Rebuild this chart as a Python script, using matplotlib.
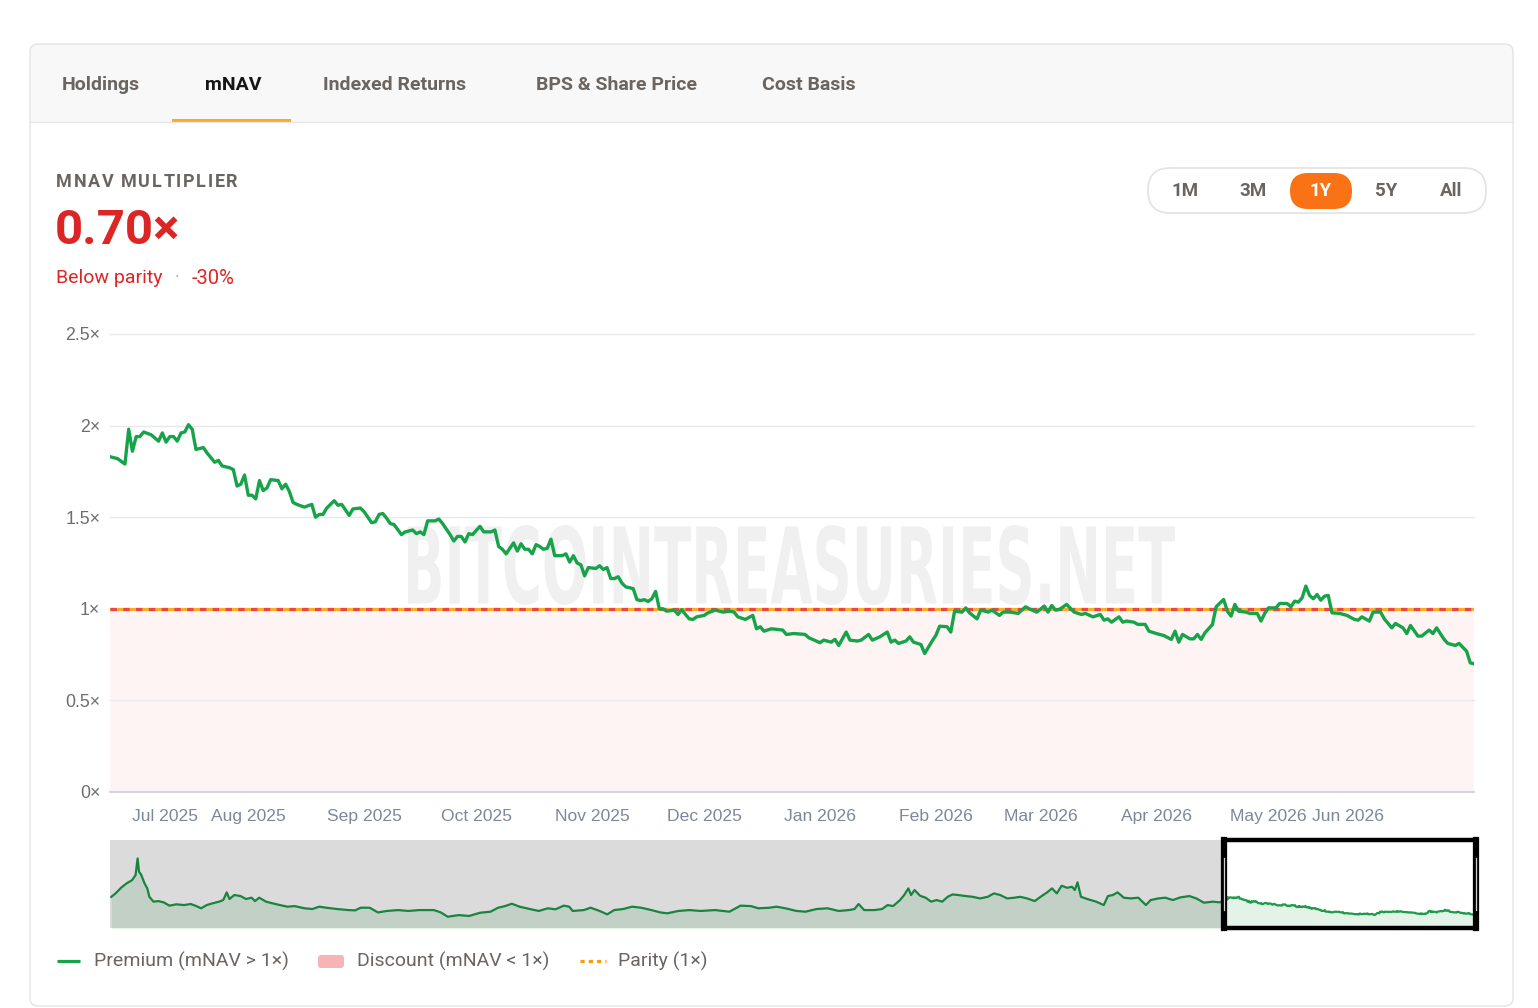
import numpy as np
import matplotlib
matplotlib.use("Agg")
import matplotlib.pyplot as plt
from matplotlib.patches import FancyBboxPatch, Rectangle, PathPatch
from matplotlib.textpath import TextPath, text_to_path
from matplotlib.font_manager import FontProperties
from matplotlib.transforms import Affine2D

W, H = 1538, 1008

# --- data -------------------------------------------------------------------
MAIN_START = np.datetime64("2025-06-25")
NAV_START = np.datetime64("2021-01-24")

# 1Y mNAV series: day offset from MAIN_START, multiplier
main_days = [0, 2, 3, 4, 5, 6, 7, 8, 9, 11, 13, 14, 15, 16, 17, 18, 19, 20, 21, 22,
             23, 25, 26, 28, 29, 30, 32, 33, 34, 35, 36, 37, 38, 39, 40, 41, 42, 43, 45, 46,
             47, 48, 49, 50, 52, 54, 55, 56, 57, 58, 60, 61, 62, 64, 65, 67, 68, 70, 71, 72,
             73, 74, 75, 76, 78, 79, 81, 82, 83, 84, 85, 87, 88, 89, 91, 92, 93, 94, 95, 96,
             97, 99, 100, 102, 103, 104, 105, 106, 108, 109, 110, 111, 112, 113, 114, 115, 116, 117, 118, 119,
             121, 122, 123, 124, 125, 126, 127, 128, 130, 131, 132, 133, 134, 135, 136, 137, 138, 140, 141, 142,
             143, 144, 145, 146, 147, 148, 149, 151, 152, 153, 154, 155, 156, 157, 159, 160, 162, 164, 166, 167,
             168, 170, 172, 173, 174, 175, 177, 180, 181, 183, 186, 187, 190, 191, 193, 194, 195, 197, 198, 200,
             201, 203, 204, 206, 208, 209, 210, 211, 213, 214, 215, 217, 218, 220, 221, 222, 224, 225, 226, 228,
             229, 230, 232, 233, 235, 236, 238, 239, 241, 243, 245, 246, 248, 250, 251, 252, 253, 254, 256, 258,
             260, 261, 263, 265, 266, 267, 268, 270, 271, 272, 274, 275, 277, 278, 280, 282, 284, 285, 286, 287,
             289, 290, 291, 292, 293, 295, 296, 298, 299, 300, 301, 302, 304, 305, 307, 308, 309, 310, 312, 313,
             315, 316, 317, 318, 319, 320, 321, 322, 323, 324, 325, 326, 327, 329, 331, 333, 334, 335, 337, 338,
             340, 341, 343, 344, 346, 347, 348, 350, 351, 353, 354, 355, 357, 358, 360, 361, 363, 364, 365]
main_mnav = [1.83, 1.82, 1.805, 1.79, 1.98, 1.86, 1.94, 1.94, 1.965, 1.95, 1.915, 1.96, 1.91, 1.94, 1.94, 1.915, 1.96, 1.965, 2.005, 1.98,
             1.87, 1.88, 1.85, 1.80, 1.81, 1.78, 1.77, 1.76, 1.67, 1.68, 1.73, 1.62, 1.62, 1.60, 1.70, 1.645, 1.66, 1.705, 1.70, 1.655,
             1.68, 1.64, 1.58, 1.57, 1.555, 1.57, 1.50, 1.515, 1.515, 1.55, 1.59, 1.565, 1.57, 1.51, 1.545, 1.55, 1.53, 1.47, 1.475, 1.515,
             1.52, 1.495, 1.465, 1.46, 1.405, 1.42, 1.43, 1.41, 1.42, 1.405, 1.48, 1.48, 1.49, 1.465, 1.405, 1.37, 1.395, 1.395, 1.365, 1.41,
             1.405, 1.45, 1.42, 1.42, 1.43, 1.34, 1.325, 1.30, 1.36, 1.315, 1.355, 1.325, 1.325, 1.30, 1.35, 1.34, 1.325, 1.33, 1.38, 1.29,
             1.29, 1.30, 1.255, 1.29, 1.25, 1.24, 1.18, 1.225, 1.22, 1.235, 1.215, 1.225, 1.165, 1.165, 1.175, 1.14, 1.12, 1.11, 1.05, 1.045,
             1.05, 1.04, 1.055, 1.095, 1.0, 1.0, 0.987, 0.993, 0.969, 0.996, 0.969, 0.945, 0.942, 0.956, 0.964, 0.978, 0.993, 0.982, 0.987, 0.982,
             0.956, 0.942, 0.964, 0.891, 0.902, 0.878, 0.891, 0.884, 0.86, 0.865, 0.86, 0.842, 0.815, 0.829, 0.818, 0.833, 0.80, 0.873, 0.829, 0.824,
             0.829, 0.86, 0.829, 0.847, 0.873, 0.818, 0.829, 0.811, 0.824, 0.847, 0.818, 0.805, 0.756, 0.824, 0.855, 0.905, 0.902, 0.873, 0.987, 0.982,
             1.005, 0.978, 0.945, 0.993, 0.982, 0.993, 0.964, 0.982, 0.982, 0.975, 1.011, 1.0, 0.982, 1.015, 0.982, 1.018, 0.993, 0.996, 1.024, 0.982,
             0.969, 0.975, 0.956, 0.969, 0.938, 0.945, 0.927, 0.956, 0.927, 0.933, 0.927, 0.915, 0.915, 0.878, 0.865, 0.854, 0.833, 0.878, 0.818, 0.86,
             0.836, 0.836, 0.86, 0.833, 0.869, 0.914, 1.011, 1.051, 0.987, 0.96, 1.024, 0.987, 0.982, 0.975, 0.975, 0.933, 0.975, 1.005, 1.005, 1.029,
             1.029, 1.011, 1.042, 1.036, 1.06, 1.124, 1.073, 1.055, 1.078, 1.047, 1.069, 1.073, 0.978, 0.975, 0.964, 0.942, 0.938, 0.956, 0.933, 0.982,
             0.982, 0.945, 0.896, 0.92, 0.896, 0.865, 0.909, 0.851, 0.851, 0.884, 0.865, 0.896, 0.833, 0.811, 0.80, 0.811, 0.769, 0.705, 0.70]

# full history shown in the navigator before the 1Y window: day offset from NAV_START
nav_days = [2, 8, 16, 24, 32, 37, 40, 42, 45, 50, 54, 57, 63, 70, 78, 86, 96, 107, 117, 125,
            132, 140, 148, 158, 164, 169, 173, 180, 189, 197, 205, 210, 216, 226, 236, 246, 257, 267, 282, 293,
            303, 313, 329, 345, 355, 363, 376, 388, 401, 417, 432, 448, 469, 479, 489, 505, 520, 536, 551, 562,
            572, 582, 593, 608, 621, 634, 645, 657, 665, 670, 686, 696, 709, 720, 730, 743, 756, 769, 784, 797,
            807, 823, 839, 855, 876, 897, 913, 928, 939, 955, 965, 978, 994, 1007, 1023, 1039, 1055, 1070, 1078, 1084,
            1092, 1107, 1118, 1126, 1134, 1144, 1150, 1156, 1160, 1165, 1173, 1181, 1189, 1197, 1205, 1213, 1220, 1228, 1239, 1249,
            1260, 1271, 1280, 1289, 1299, 1310, 1318, 1328, 1339, 1349, 1357, 1364, 1371, 1378, 1386, 1393, 1397, 1401, 1406, 1415,
            1428, 1439, 1445, 1452, 1459, 1468, 1478, 1489, 1500, 1507, 1518, 1528, 1539, 1550, 1563, 1573, 1584, 1597, 1608]
nav_mnav = [2.00, 2.23, 2.61, 2.91, 3.13, 3.47, 4.60, 3.70, 3.51, 2.91, 2.57, 2.00, 1.67, 1.71, 1.62, 1.40, 1.49, 1.44, 1.51, 1.37,
            1.22, 1.44, 1.55, 1.67, 1.78, 2.30, 1.85, 2.12, 2.05, 1.85, 1.94, 1.71, 1.94, 1.67, 1.55, 1.44, 1.33, 1.37, 1.22, 1.17,
            1.33, 1.26, 1.17, 1.10, 1.08, 1.26, 1.26, 0.94, 1.04, 1.10, 1.04, 1.10, 1.10, 0.94, 0.65, 0.76, 0.70, 0.92, 0.99, 1.26,
            1.37, 1.53, 1.33, 1.17, 1.04, 1.22, 1.15, 1.40, 1.33, 1.04, 1.10, 1.26, 1.04, 0.81, 1.10, 1.17, 1.33, 1.26, 1.10, 0.94,
            0.88, 1.04, 1.10, 1.04, 1.10, 0.99, 1.40, 1.37, 1.22, 1.26, 1.33, 1.22, 1.04, 0.99, 1.17, 1.22, 1.04, 1.10, 1.17, 1.51,
            1.10, 1.10, 1.17, 1.44, 1.37, 1.78, 2.12, 2.57, 2.12, 2.46, 2.07, 1.94, 1.67, 1.78, 1.67, 2.00, 2.16, 2.12, 2.05, 2.00,
            1.89, 2.00, 2.23, 2.12, 1.89, 1.94, 2.00, 1.89, 1.71, 2.05, 2.30, 2.57, 2.23, 2.75, 2.61, 2.68, 2.46, 2.98, 2.00, 1.85,
            1.67, 1.44, 2.05, 2.12, 2.30, 1.94, 1.89, 1.94, 1.44, 1.78, 1.89, 1.94, 1.78, 1.96, 2.05, 1.89, 1.60, 1.67, 1.62]

month_ticks = ["2025-07-01", "2025-08-01", "2025-09-01", "2025-10-01", "2025-11-01", "2025-12-01",
               "2026-01-01", "2026-02-01", "2026-03-01", "2026-04-01", "2026-05-01", "2026-06-01"]
month_labels = ["Jul 2025", "Aug 2025", "Sep 2025", "Oct 2025", "Nov 2025", "Dec 2025",
                "Jan 2026", "Feb 2026", "Mar 2026", "Apr 2026", "May 2026", "Jun 2026"]
y_ticks = [0, 0.5, 1, 1.5, 2, 2.5]
y_labels = ["0×", "0.5×", "1×", "1.5×", "2×", "2.5×"]
tabs = ["Holdings", "mNAV", "Indexed Returns", "BPS & Share Price", "Cost Basis"]
active_tab = "mNAV"
ranges = ["1M", "3M", "1Y", "5Y", "All"]
active_range = "1Y"
legend_labels = ["Premium (mNAV > 1×)", "Discount (mNAV < 1×)", "Parity (1×)"]

GREEN = "#16a34a"
RED = "#dc2626"
MUTED = "#6b6561"
UI_FONT = ["Roboto", "DejaVu Sans"]
AX_FONT = ["Liberation Sans", "DejaVu Sans"]

main_dates = MAIN_START + np.array(main_days)
main_end = main_dates[-1]
nav_dates = np.concatenate([NAV_START + np.array(nav_days), main_dates])
nav_vals = np.concatenate([nav_mnav, main_mnav])
current = main_mnav[-1]


def spaced_text(axis, x, y, s, spacing, **kw):
    # draw text with extra letter spacing (pixels), left aligned at x
    prop = FontProperties(family=kw.get("family"), weight=kw.get("fontweight", "normal"),
                          size=kw.get("fontsize", 12))
    for i, ch in enumerate(s):
        w = 0.0
        if i:
            w, _, _ = text_to_path.get_text_width_height_descent(s[:i], prop, ismath=False)
        axis.text(x + w * 100 / 72 + i * spacing, y, ch, ha="left", va="center", **kw)


fig = plt.figure(figsize=(W / 100, H / 100), dpi=100)
fig.patch.set_facecolor("white")

# --- page / card background (pixel coordinates) ------------------------------
bg = fig.add_axes([0, 0, 1, 1], zorder=-5)
bg.set_xlim(0, W)
bg.set_ylim(H, 0)
bg.axis("off")

card = FancyBboxPatch((30, 44), 1483, 962, boxstyle="round,pad=0,rounding_size=8",
                      fc="white", ec="none")
bg.add_patch(card)
tabbar = Rectangle((30, 44), 1483, 78, fc="#f8f8f8", ec="none")
bg.add_patch(tabbar)
tabbar.set_clip_path(card)
bg.plot([30, 1513], [122, 122], color="#e7e7e7", lw=1)
bg.add_patch(FancyBboxPatch((30, 44), 1483, 962, boxstyle="round,pad=0,rounding_size=8",
                            fc="none", ec="#e4e4e4", lw=1))

tab_x = [62, 205, 323, 536, 762]
for name, x in zip(tabs, tab_x):
    bg.text(x, 85, name, ha="left", va="center", fontsize=14, fontweight="bold",
            family=UI_FONT, color="#161616" if name == active_tab else MUTED)
bg.add_patch(Rectangle((172, 118.5), 119, 3.5, fc="#f6ac1c", ec="none"))

spaced_text(bg, 56, 182, "MNAV MULTIPLIER", 1.6, fontsize=13, fontweight="bold",
            family=UI_FONT, color=MUTED)
bg.text(55, 231, f"{current:.2f}×", ha="left", va="center", fontsize=35.5, fontweight="bold",
        family=UI_FONT, color=RED)
status = "Below parity" if current < 1 else "Above parity"
bg.text(56, 278, status, ha="left", va="center", fontsize=14, family=UI_FONT, color=RED)
bg.text(177, 278, "·", ha="center", va="center", fontsize=13, family=UI_FONT, color="#b0b0b0")
bg.text(192, 278, f"{(current - 1) * 100:.0f}%", ha="left", va="center",
        fontsize=14.5, family=UI_FONT, color=RED)

# range selector
bg.add_patch(FancyBboxPatch((1148, 168), 338, 45, boxstyle="round,pad=0,rounding_size=22",
                            fc="white", ec="#e2e2e2", lw=1.2))
range_x = [1185, 1253, 1321, 1386, 1451]
for name, x in zip(ranges, range_x):
    if name == active_range:
        bg.add_patch(FancyBboxPatch((x - 31, 173), 62, 36, boxstyle="round,pad=0,rounding_size=18",
                                    fc="#f97316", ec="none"))
    bg.text(x, 191.5, name, ha="center", va="center", fontsize=13.5, fontweight="bold",
            family=UI_FONT, color="white" if name == active_range else MUTED)

# legend
bg.plot([57, 80], [961, 961], color=GREEN, lw=2.3, solid_capstyle="butt")
bg.text(94, 961, legend_labels[0], ha="left", va="center", fontsize=14, family=UI_FONT, color=MUTED)
bg.add_patch(FancyBboxPatch((318, 955), 26, 13, boxstyle="round,pad=0,rounding_size=3",
                            fc="#f8b4b4", ec="none"))
bg.text(357, 961, legend_labels[1], ha="left", va="center", fontsize=14, family=UI_FONT, color=MUTED)
bg.plot([580, 606], [961, 961], color="#f59e0b", lw=2.3, linestyle=(0, (1.3, 1.3)))
bg.text(618, 961, legend_labels[2], ha="left", va="center", fontsize=14, family=UI_FONT, color=MUTED)

# --- main chart ----------------------------------------------------------------
ax = fig.add_axes([110 / W, 1 - 792 / H, 1364 / W, 458 / H])
ax.set_facecolor("none")
ax.set_xlim(MAIN_START, main_end)
ax.set_ylim(0, 2.5)
for s in ax.spines.values():
    s.set_visible(False)

ax.axhspan(0, 1, color="#fef4f4", lw=0, zorder=0)
for yv in y_ticks:
    if yv in (0, 1):
        continue
    ax.axhline(yv, color="#e8e8ee", lw=1, zorder=1, clip_on=False)
ax.axhline(0, color="#cdd1dc", lw=1.3, zorder=1, clip_on=False)

# watermark
tp = TextPath((0, 0), "BITCOINTREASURIES.NET", size=1,
              prop=FontProperties(family="DejaVu Sans", weight="bold"))
ext = tp.get_extents()
wm_tr = (Affine2D().translate(-ext.x0, -ext.y0)
         .scale(767 / ext.width, 80 / ext.height).translate(408, H - 605))
ax.add_patch(PathPatch(tp, transform=wm_tr, fc="#f0f0f0", ec="none", zorder=2, clip_on=False))

# parity line: orange with red dashes
ax.axhline(1, color="#f5b025", lw=2.3, zorder=3)
ax.axhline(1, color="#ef4444", lw=2.3, linestyle=(0, (2.0, 2.0)), zorder=4)

ax.plot(main_dates, main_mnav, color=GREEN, lw=2.4, solid_joinstyle="round", zorder=5)

ax.set_yticks(y_ticks, y_labels)
ax.tick_params(axis="y", length=0, pad=7, labelsize=12.8, labelcolor="#6e6e6e")
for lab in ax.get_yticklabels():
    lab.set_family(AX_FONT)
ax.set_xticks([])
xt = ax.get_xaxis_transform()
for i, (d, lab) in enumerate(zip(month_ticks, month_labels)):
    ha = "left" if i == 0 else ("right" if i == len(month_ticks) - 1 else "center")
    ax.annotate(lab, xy=(np.datetime64(d), 0), xycoords=xt, xytext=(0, -17.5),
                textcoords="offset points", ha=ha, va="center", fontsize=12.6,
                family=AX_FONT, color="#7d879a", annotation_clip=False)

# --- navigator -------------------------------------------------------------------
nav = fig.add_axes([110 / W, 1 - 928 / H, 1366 / W, 88 / H])
nav.set_xlim(NAV_START, main_end)
nav.set_ylim(-0.115, 5.85)
nav.set_facecolor("white")
nav.axis("off")
nav.fill_between(nav_dates, nav_vals, -0.2, color="#e4f3e7", lw=0, zorder=1)
nav.plot(nav_dates, nav_vals, color="#1e9a4a", lw=1.6, zorder=2)
nav.axvspan(NAV_START, MAIN_START, color="black", alpha=0.14, lw=0, zorder=3)
nav.axvspan(MAIN_START, main_end, fill=False, ec="black", lw=3.2, zorder=6, clip_on=False)
nxt = nav.get_xaxis_transform()
for d in (MAIN_START, main_end):
    nav.plot([d, d], [0, 1], transform=nxt, color="black", lw=4.5, zorder=7, clip_on=False)
    nav.plot([d, d], [0.2, 0.8], transform=nxt, color="#d0d0d0", lw=0.9, zorder=8, clip_on=False)

fig.savefig("out.png", dpi=100, facecolor="white")
